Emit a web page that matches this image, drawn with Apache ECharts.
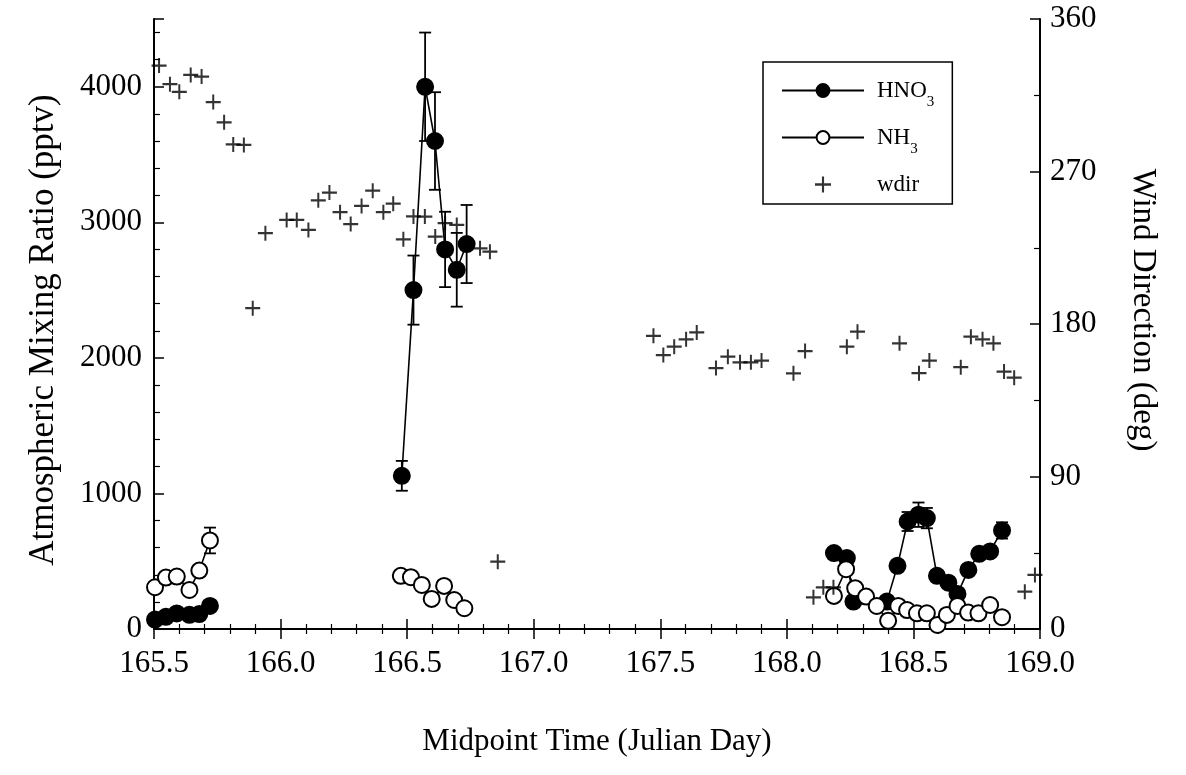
<!DOCTYPE html>
<html>
<head>
<meta charset="utf-8">
<script src="https://cdn.jsdelivr.net/npm/echarts@6/dist/echarts.min.js"></script>
<style>
html,body{margin:0;padding:0;background:#fff;}
#chart{width:1186px;height:775px;}
</style>
</head>
<body>
<div id="chart"></div>
<script>
// ---- data (Julian day, pptv / deg) ----
const xTicks = [165.5, 166.0, 166.5, 167.0, 167.5, 168.0, 168.5, 169.0];

const hno3Day1 = [165.504, 165.547, 165.59, 165.64, 165.679, 165.721];
const hno3Val1 = [70, 90, 115, 105, 110, 170];
const hno3Err1 = [0, 0, 0, 0, 0, 0];

const hno3Day2 = [166.479, 166.525, 166.571, 166.61, 166.65, 166.696, 166.735];
const hno3Val2 = [1130, 2500, 4000, 3600, 2800, 2650, 2840];
const hno3Err2 = [110, 255, 400, 360, 278, 272, 288];

const hno3Day3 = [168.186, 168.237, 168.263, 168.395, 168.437, 168.477, 168.52, 168.553, 168.593, 168.638, 168.674, 168.717, 168.76, 168.803, 168.85];
const hno3Val3 = [560, 523, 202, 202, 466, 793, 843, 818, 392, 342, 259, 436, 555, 572, 727];
const hno3Err3 = [0, 0, 0, 0, 0, 70, 90, 75, 0, 0, 0, 0, 0, 0, 60];

const nh3Day1 = [165.504, 165.547, 165.59, 165.64, 165.679, 165.721];
const nh3Val1 = [308, 379, 387, 288, 431, 653];
const nh3Err1 = [0, 0, 0, 0, 0, 95];

const nh3Day2 = [166.475, 166.515, 166.558, 166.597, 166.646, 166.686, 166.726];
const nh3Val2 = [392, 382, 325, 222, 318, 214, 153];

const nh3Day3 = [168.186, 168.234, 168.27, 168.313, 168.355, 168.4, 168.44, 168.475, 168.514, 168.553, 168.595, 168.632, 168.674, 168.716, 168.757, 168.803, 168.85];
const nh3Val3 = [244, 441, 301, 239, 170, 61, 170, 140, 116, 116, 30, 104, 170, 121, 116, 177, 87];

const wdirDay = [165.52, 165.563, 165.60, 165.645, 165.688, 165.734, 165.777, 165.813, 165.855, 165.89, 165.94,
  166.024, 166.064, 166.11, 166.149, 166.193, 166.235, 166.277, 166.32, 166.364, 166.406, 166.445, 166.485,
  166.525, 166.57, 166.611, 166.65, 166.696, 166.788, 166.827, 166.858,
  167.473, 167.512, 167.555, 167.602, 167.644, 167.72, 167.767, 167.815, 167.858, 167.9,
  168.026, 168.072, 168.105, 168.144, 168.184, 168.237, 168.279, 168.445, 168.522, 168.563,
  168.687, 168.727, 168.773, 168.816, 168.858, 168.898, 168.94, 168.98];
const wdirDeg = [332.5, 321.5, 317, 327, 326, 311, 299, 286, 285.7, 189.3, 233.6,
  241.4, 241.4, 235.5, 253, 257.6, 246, 239, 249.7, 258.7, 246, 251, 230,
  243.5, 243.4, 231.6, 239.5, 238.5, 224.7, 222.7, 39.7,
  173, 161.7, 166.6, 171, 175, 154, 160.7, 157.4, 157.4, 158.4,
  150.9, 164, 18.7, 24.6, 24.6, 166.6, 175.5, 168.6, 151, 158.4,
  154.5, 172.5, 171, 168.6, 151.9, 148.3, 22, 31.9];

// ---- chart ----
const FONT = '"Liberation Serif", "DejaVu Serif", serif';
const pair = (d, v) => d.map((x, i) => [x, v[i]]);
const trip = (d, v, e) => d.map((x, i) => [x, v[i], e[i]]);

function lineSeries(name, days, vals, filled) {
  return {
    name: name, type: 'line', xAxisIndex: 0, yAxisIndex: 0,
    data: pair(days, vals),
    symbol: 'circle', symbolSize: 16, showSymbol: true,
    lineStyle: { color: '#000', width: 1.6 },
    itemStyle: { color: filled ? '#000' : '#fff', borderColor: '#000', borderWidth: 2 },
    z: filled ? 3 : 4, animation: false, silent: true
  };
}
function errSeries(days, vals, errs) {
  return {
    type: 'custom', xAxisIndex: 0, yAxisIndex: 0,
    data: trip(days, vals, errs),
    encode: { x: 0, y: 1 },
    z: 2, silent: true, animation: false,
    renderItem: function (params, api) {
      const x = api.value(0), y = api.value(1), e = api.value(2);
      if (!e) return null;
      const t = api.coord([x, y + e]), b = api.coord([x, y - e]);
      const w = 6, st = { stroke: '#000', lineWidth: 1.8 };
      return { type: 'group', children: [
        { type: 'line', shape: { x1: t[0], y1: t[1], x2: b[0], y2: b[1] }, style: st },
        { type: 'line', shape: { x1: t[0] - w, y1: t[1], x2: t[0] + w, y2: t[1] }, style: st },
        { type: 'line', shape: { x1: b[0] - w, y1: b[1], x2: b[0] + w, y2: b[1] }, style: st }
      ]};
    }
  };
}

const axisLineStyle = { color: '#000', width: 2 };
const xCommon = {
  type: 'value', min: 165.5, max: 169.0, interval: 0.5,
  axisLine: { show: true, lineStyle: axisLineStyle },
  axisTick: { show: true, inside: true, length: 10, lineStyle: { color: '#000', width: 1.5 } },
  minorTick: { show: true, splitNumber: 5, length: 5, lineStyle: { color: '#000', width: 1.2 } },
  splitLine: { show: false }
};

const option = {
  backgroundColor: '#fff',
  animation: false,
  grid: { left: 154, right: 146, top: 19, bottom: 146, containLabel: false },
  legend: {
    data: ['HNO3', 'NH3', 'wdir'],
    orient: 'vertical', left: 763, top: 62,
    padding: [17, 18, 8, 18], itemGap: 16,
    itemWidth: 82, itemHeight: 16,
    borderColor: '#000', borderWidth: 1.5,
    backgroundColor: '#fff',
    selectedMode: false,
    formatter: function (n) {
      if (n === 'HNO3') return '{t|HNO}{s|3}';
      if (n === 'NH3') return '{t|NH}{s|3}';
      return '{t|wdir}';
    },
    textStyle: {
      fontFamily: FONT, color: '#000', fontSize: 23, padding: [0, 0, 0, 8],
      rich: {
        t: { fontFamily: FONT, fontSize: 23, color: '#000' },
        s: { fontFamily: FONT, fontSize: 15, color: '#000', padding: [24, 0, 0, 0] }
      }
    }
  },
  xAxis: [
    Object.assign({}, xCommon, {
      position: 'bottom',
      name: 'Midpoint Time (Julian Day)', nameLocation: 'middle', nameGap: 97,
      nameTextStyle: { fontFamily: FONT, fontSize: 31, color: '#000' },
      axisLabel: { show: true, margin: 19, fontFamily: FONT, fontSize: 31, color: '#000',
        formatter: v => v.toFixed(1) }
    }),
    Object.assign({}, xCommon, { position: 'top', axisLabel: { show: false } })
  ],
  yAxis: [
    {
      type: 'value', position: 'left', min: 0, max: 4500, interval: 1000,
      name: 'Atmospheric Mixing Ratio (pptv)', nameLocation: 'middle', nameGap: 93, nameRotate: 90,
      nameTextStyle: { fontFamily: FONT, fontSize: 35, color: '#000', padding: [0, 12, 0, 0] },
      axisLine: { show: true, lineStyle: axisLineStyle },
      axisTick: { show: true, inside: true, length: 10, lineStyle: { color: '#000', width: 1.5 } },
      minorTick: { show: true, splitNumber: 5, length: 6, lineStyle: { color: '#000', width: 1.2 } },
      splitLine: { show: false },
      axisLabel: { margin: 12, fontFamily: FONT, fontSize: 31, color: '#000',
        formatter: v => (v > 4000 ? '' : String(v)) }
    },
    {
      type: 'value', position: 'right', min: 0, max: 360, interval: 90,
      name: 'Wind Direction (deg)', nameLocation: 'middle', nameGap: 86, nameRotate: -90,
      nameTextStyle: { fontFamily: FONT, fontSize: 33, color: '#000', padding: [0, 28, 0, 0] },
      axisLine: { show: true, lineStyle: axisLineStyle },
      axisTick: { show: true, inside: true, length: 10, lineStyle: { color: '#000', width: 1.5 } },
      minorTick: { show: true, splitNumber: 2, length: 6, lineStyle: { color: '#000', width: 1.2 } },
      splitLine: { show: false },
      axisLabel: { margin: 10, fontFamily: FONT, fontSize: 31, color: '#000' }
    }
  ],
  series: [
    errSeries(hno3Day1, hno3Val1, hno3Err1),
    errSeries(hno3Day2, hno3Val2, hno3Err2),
    errSeries(hno3Day3, hno3Val3, hno3Err3),
    errSeries(nh3Day1, nh3Val1, nh3Err1),
    lineSeries('HNO3', hno3Day1, hno3Val1, true),
    lineSeries('HNO3', hno3Day2, hno3Val2, true),
    lineSeries('HNO3', hno3Day3, hno3Val3, true),
    lineSeries('NH3', nh3Day1, nh3Val1, false),
    lineSeries('NH3', nh3Day2, nh3Val2, false),
    lineSeries('NH3', nh3Day3, nh3Val3, false),
    {
      name: 'wdir', type: 'scatter', xAxisIndex: 0, yAxisIndex: 1,
      data: pair(wdirDay, wdirDeg),
      symbol: 'path://M5.2,0H6.8V5.1H12V6.9H6.8V12H5.2V6.9H0V5.1H5.2Z', symbolSize: 15,
      itemStyle: { color: '#000' }, z: 5, silent: true, animation: false
    }
  ]
};

const chart = echarts.init(document.getElementById('chart'), null, { renderer: 'canvas' });
chart.setOption(option);
</script>
</body>
</html>
